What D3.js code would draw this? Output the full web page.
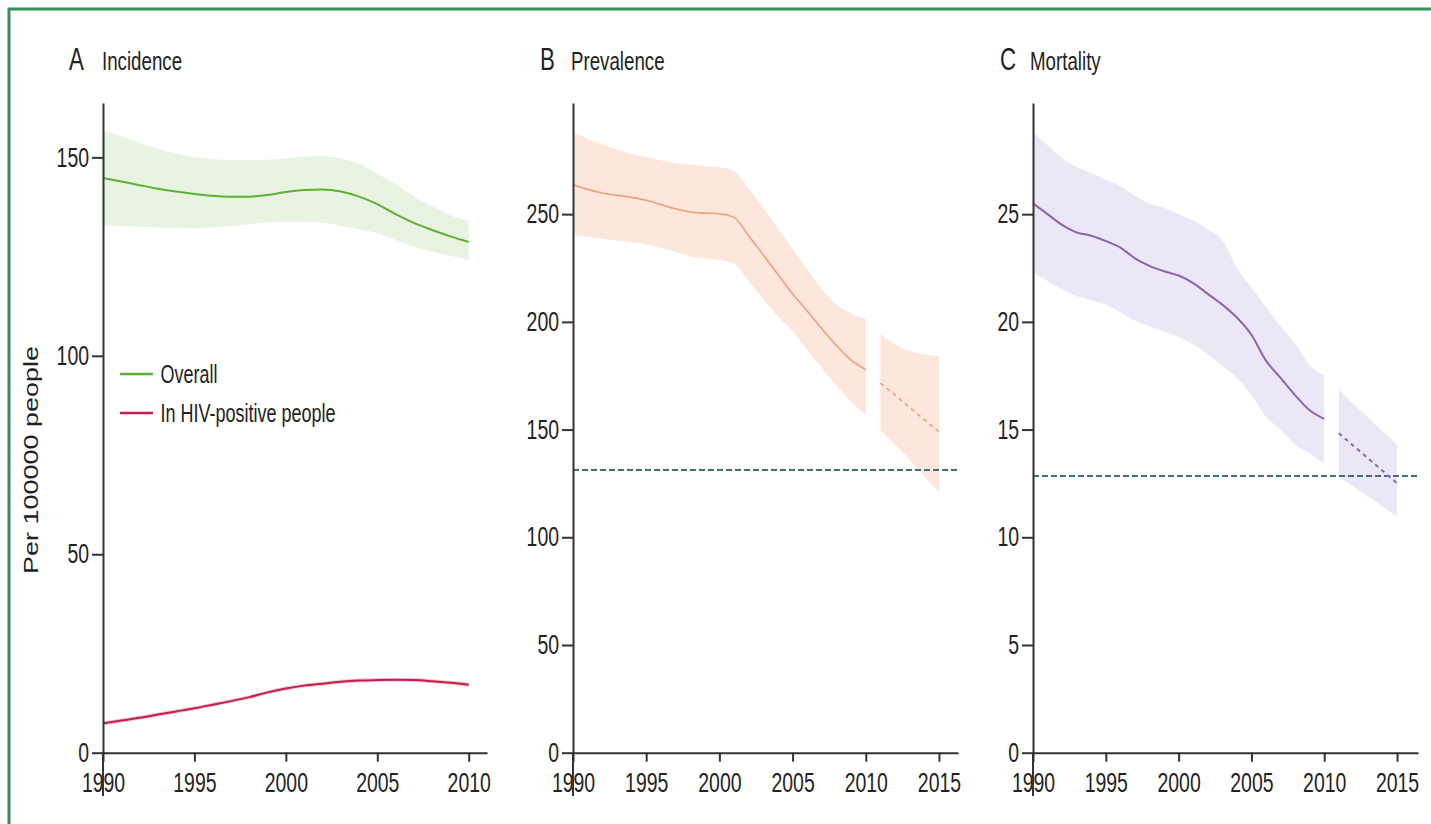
<!DOCTYPE html>
<html>
<head>
<meta charset="utf-8">
<script src="https://cdnjs.cloudflare.com/ajax/libs/d3/7.8.5/d3.min.js"></script>
<style>
  body { margin: 0; background: #fff; }
  svg text { font-family: "Liberation Sans", Arial, sans-serif; fill: #222; }
</style>
</head>
<body>
<svg id="chart" width="1431" height="824"></svg>
<script>
// ---- data ----
var years = [1990,1991,1992,1993,1994,1995,1996,1997,1998,1999,2000,2001,2002,2003,2004,2005,2006,2007,2008,2009,2010];
var projYears = [2011,2012,2013,2014,2015];

// A incidence, overall
var incOverall   = [144.8,143.9,143.0,142.1,141.4,140.8,140.3,140.05,140.1,140.5,141.3,141.8,141.9,141.4,140.1,138.2,135.7,133.5,131.7,130.1,128.7];
var incOverallHi = [156.9,155.3,153.7,152.1,150.9,150.0,149.5,149.3,149.3,149.4,149.7,150.2,150.3,149.8,148.3,145.9,143.3,140.2,137.7,135.4,134.0];
var incOverallLo = [132.9,132.7,132.5,132.3,132.2,132.1,132.3,132.7,133.2,133.6,133.8,133.8,133.5,132.8,131.9,130.9,129.2,127.5,126.3,125.2,124.1];
// A incidence, HIV-positive people
var incHiv   = [7.4,8.1,8.8,9.6,10.4,11.2,12.1,13.0,14.0,15.2,16.2,16.9,17.4,17.9,18.2,18.3,18.35,18.3,18.0,17.6,17.1];
var incHivHi = [7.9,8.6,9.3,10.1,10.9,11.7,12.6,13.5,14.5,15.7,16.7,17.4,17.9,18.4,18.7,18.8,18.85,18.8,18.5,18.1,17.7];
var incHivLo = [6.9,7.6,8.3,9.1,9.9,10.7,11.6,12.5,13.5,14.7,15.7,16.4,16.9,17.4,17.7,17.8,17.85,17.8,17.5,17.1,16.5];

// B prevalence
var prevMean = [263.7,261.5,259.8,258.7,257.8,256.5,254.5,252.5,251.0,250.5,250.2,248.5,240.0,231.0,222.0,213.0,205.0,196.8,189.0,182.2,177.8];
var prevHi   = [288.0,285.0,282.2,280.0,278.0,276.5,275.0,273.8,273.0,272.4,271.8,270.0,262.0,253.0,243.5,234.0,224.5,215.0,208.0,204.0,201.3];
var prevLo   = [240.3,239.5,238.7,237.8,237.0,236.0,234.5,232.5,230.5,229.5,228.6,227.0,219.0,210.5,202.5,195.8,187.0,178.5,170.5,163.0,156.7];
var prevProj   = [171.6,166.0,160.3,154.6,148.9];
var prevProjHi = [194.2,189.5,186.5,185.0,184.0];
var prevProjLo = [149.7,143.0,136.0,128.5,120.8];
var prevTarget = 131.2;

// C mortality
var mortMean = [25.5,25.0,24.5,24.15,24.0,23.75,23.45,22.95,22.6,22.35,22.15,21.8,21.3,20.8,20.2,19.4,18.2,17.4,16.6,15.9,15.5];
var mortHi   = [28.8,28.2,27.6,27.2,26.9,26.6,26.3,25.85,25.5,25.3,25.0,24.7,24.3,23.8,22.5,21.6,20.7,19.8,19.0,18.0,17.5];
var mortLo   = [22.3,21.9,21.5,21.2,21.0,20.8,20.45,20.05,19.8,19.55,19.3,18.95,18.5,17.95,17.4,16.6,15.6,15.0,14.3,13.9,13.4];
var mortProj   = [14.83,14.25,13.67,13.09,12.51];
var mortProjHi = [16.84,16.2,15.56,14.93,14.29];
var mortProjLo = [12.81,12.35,11.9,11.43,10.96];
var mortTarget = 12.85;

var yTicksA = [0,50,100,150];
var yTicksB = [0,50,100,150,200,250];
var yTicksC = [0,5,10,15,20,25];
var xTicksA = [1990,1995,2000,2005,2010];
var xTicksBC = [1990,1995,2000,2005,2010,2015];

// ---- drawing ----
var SX = 0.72;          // horizontal squeeze of the lettering
var axisColor = "#333";
var svg = d3.select("#chart");

// green frame
svg.append("rect")
    .attr("x", 9).attr("y", 9)
    .attr("width", 1440).attr("height", 840)
    .attr("fill", "none")
    .attr("stroke", "#36905b")
    .attr("stroke-width", 3);

function label(x, y, txt, size) {
    return svg.append("text")
        .attr("transform", "translate(" + x + "," + y + ") scale(" + SX + ",1)")
        .attr("font-size", size)
        .text(txt);
}

function rows(xs, mid, lo, hi) {
    return xs.map(function(yr, i) { return {year: yr, mid: mid[i], lo: lo ? lo[i] : null, hi: hi ? hi[i] : null}; });
}

function panel(cfg) {
    var x = d3.scaleLinear().domain(cfg.xDomain).range(cfg.xRange);
    var y = d3.scaleLinear().domain(cfg.yDomain).range([752.7, 103]);
    var g = svg.append("g");

    var area = d3.area().curve(d3.curveMonotoneX)
        .x(function(d) { return x(d.year); })
        .y0(function(d) { return y(d.lo); })
        .y1(function(d) { return y(d.hi); });
    var line = d3.line().curve(d3.curveMonotoneX)
        .x(function(d) { return x(d.year); })
        .y(function(d) { return y(d.mid); });

    // uncertainty bands first
    cfg.series.forEach(function(s) {
        if (s.lo) g.append("path").datum(s.data).attr("fill", s.band).attr("d", area);
    });

    // target line
    if (cfg.target != null) {
        g.append("line")
            .attr("x1", cfg.xRange[0]).attr("x2", cfg.xRange[1])
            .attr("y1", y(cfg.target)).attr("y2", y(cfg.target))
            .attr("stroke", "#41707c")
            .attr("stroke-width", 2)
            .attr("stroke-dasharray", "6,3");
    }

    cfg.series.forEach(function(s) {
        g.append("path").datum(s.data)
            .attr("fill", "none")
            .attr("stroke", s.color)
            .attr("stroke-width", s.width || 2)
            .attr("stroke-dasharray", s.dash || null)
            .attr("d", line);
    });

    // axes
    var yAxis = g.append("g")
        .attr("transform", "translate(" + cfg.xRange[0] + ",0)")
        .call(d3.axisLeft(y).tickValues(cfg.yTicks).tickSize(11).tickSizeOuter(0));
    var xAxis = g.append("g")
        .attr("transform", "translate(0,752.7)")
        .call(d3.axisBottom(x).tickValues(cfg.xTicks).tickSize(9).tickSizeOuter(0).tickPadding(11).tickFormat(d3.format("d")));

    [yAxis, xAxis].forEach(function(a) {
        a.select(".domain").attr("stroke", axisColor).attr("stroke-width", 2);
        a.selectAll(".tick line").attr("stroke", axisColor).attr("stroke-width", 2);
        a.selectAll(".tick text")
            .attr("font-size", 27)
            .attr("font-family", "Liberation Sans, Arial, sans-serif")
            .attr("fill", "#222")
            .attr("transform", "scale(" + SX + ",1)");
    });
    yAxis.selectAll(".tick text").attr("x", -14 / SX);

    // vertical axis runs down through the first year label
    g.append("line")
        .attr("x1", cfg.xRange[0]).attr("x2", cfg.xRange[0])
        .attr("y1", 752.7).attr("y2", 796)
        .attr("stroke", axisColor).attr("stroke-width", 2);

    label(cfg.letterX, 70, cfg.letter, 31);
    label(cfg.letterX + cfg.titleGap, 70, cfg.title, 26);
}

// A  Incidence
panel({
    letter: "A", title: "Incidence", letterX: 69, titleGap: 33,
    xDomain: [1990, 2011], xRange: [103, 487],
    yDomain: [0, 163.7], yTicks: yTicksA, xTicks: xTicksA,
    series: [
        {data: rows(years, incOverall, incOverallLo, incOverallHi), lo: true, color: "#5db132", band: "#e9f3e2"},
        {data: rows(years, incHiv, incHivLo, incHivHi), lo: true, color: "#c41e4f", band: "#f0c6d1"}
    ]
});

// B  Prevalence
panel({
    letter: "B", title: "Prevalence", letterX: 540, titleGap: 31,
    xDomain: [1990, 2016.3], xRange: [573, 958],
    yDomain: [0, 301.6], yTicks: yTicksB, xTicks: xTicksBC,
    target: prevTarget,
    series: [
        {data: rows(years, prevMean, prevLo, prevHi), lo: true, color: "#f39b7a", band: "#fde6dc", width: 1.6},
        {data: rows(projYears, prevProj, prevProjLo, prevProjHi), lo: true, color: "#f39b7a", band: "#fde6dc", width: 1.6, dash: "4,4"}
    ]
});

// C  Mortality
panel({
    letter: "C", title: "Mortality", letterX: 1000, titleGap: 30,
    xDomain: [1990, 2016.44], xRange: [1033, 1418],
    yDomain: [0, 30.16], yTicks: yTicksC, xTicks: xTicksBC,
    target: mortTarget,
    series: [
        {data: rows(years, mortMean, mortLo, mortHi), lo: true, color: "#8b65b3", band: "#ebe7f5"},
        {data: rows(projYears, mortProj, mortProjLo, mortProjHi), lo: true, color: "#8b65b3", band: "#ebe7f5", dash: "4,4"}
    ]
});

// legend (panel A)
var legend = [
    {name: "Overall", color: "#5db132", y: 374},
    {name: "In HIV-positive people", color: "#c41e4f", y: 413}
];
legend.forEach(function(d) {
    svg.append("line")
        .attr("x1", 120).attr("x2", 153)
        .attr("y1", d.y).attr("y2", d.y)
        .attr("stroke", d.color).attr("stroke-width", 2.5);
    label(160.5, d.y + 9, d.name, 25);
});

// shared y axis title
svg.append("text")
    .attr("transform", "translate(38,460) scale(" + SX + ",1) rotate(-90)")
    .attr("text-anchor", "middle")
    .attr("font-size", 27)
    .text("Per 100000 people");
</script>
</body>
</html>
